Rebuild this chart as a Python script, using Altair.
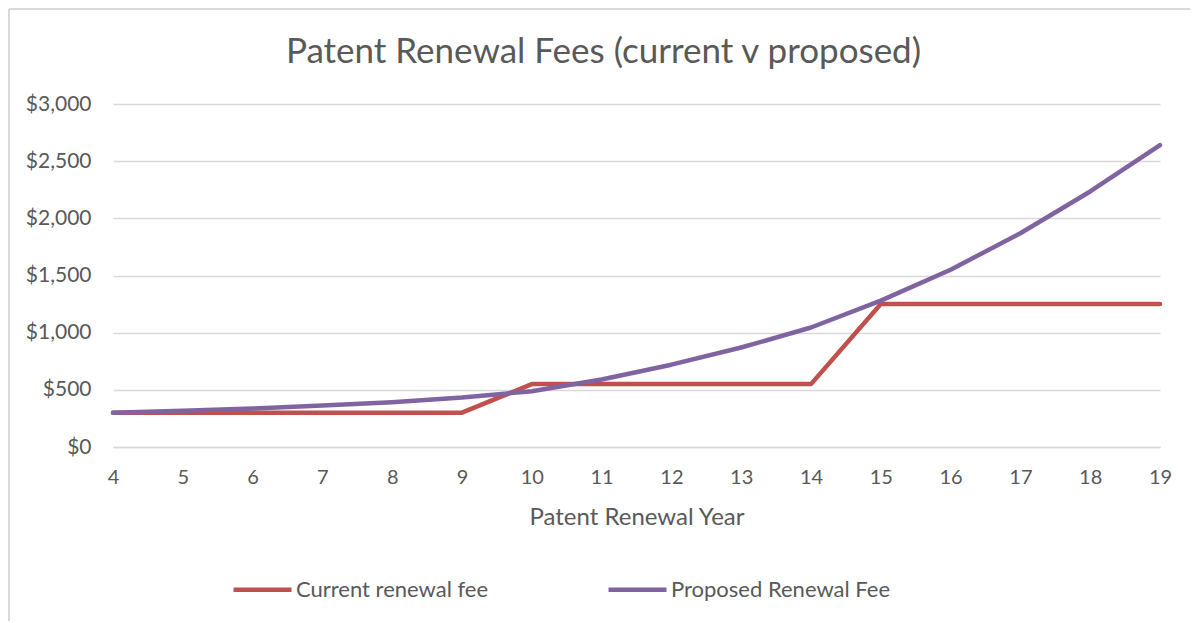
import altair as alt
import pandas as pd

years = list(range(4, 20))
current_fee = [300, 300, 300, 300, 300, 300, 550, 550, 550, 550, 550, 1250, 1250, 1250, 1250, 1250]
proposed_fee = [300, 316, 336, 362, 392, 433, 488, 590, 720, 870, 1045, 1280, 1550, 1870, 2235, 2640]
series_names = ["Current renewal fee", "Proposed Renewal Fee"]
series_colors = ["#C0504D", "#8064A2"]
y_ticks = [0, 500, 1000, 1500, 2000, 2500, 3000]

rows = []
for name, vals in zip(series_names, [current_fee, proposed_fee]):
    for yr, v in zip(years, vals):
        rows.append({"year": yr, "fee": v, "series": name})
df = pd.DataFrame(rows)

FONT = "Lato"
TXT = "#595959"
GRID = "#d9d9d9"
W, H = 1047, 343

lines = alt.Chart(df).mark_line(strokeWidth=4.5, strokeCap="round", strokeJoin="round").encode(
    x=alt.X("year:Q",
            scale=alt.Scale(domain=[4, 19], nice=False, zero=False),
            axis=alt.Axis(values=years, grid=False, ticks=False, tickSize=0, domain=True,
                          domainColor=GRID, domainWidth=1.5, labelPadding=20, labelFlush=False,
                          labelFont=FONT, labelFontSize=20, labelColor=TXT,
                          title="Patent Renewal Year", titleFont=FONT, titleFontSize=24,
                          titleFontWeight="normal", titleColor=TXT, titlePadding=18)),
    y=alt.Y("fee:Q",
            scale=alt.Scale(domain=[0, 3000], nice=False),
            axis=alt.Axis(values=y_ticks, format="$,.0f", grid=True, gridColor=GRID, gridWidth=1.5,
                          domain=False, ticks=False, tickSize=0, labelPadding=22,
                          labelFont=FONT, labelFontSize=21, labelColor=TXT, title=None)),
    color=alt.Color("series:N",
                    scale=alt.Scale(domain=series_names, range=series_colors),
                    legend=alt.Legend(title=None, orient="none", legendX=118, legendY=454,
                                      direction="horizontal", symbolType="stroke",
                                      symbolSize=3364, symbolStrokeWidth=4.5,
                                      labelFont=FONT, labelFontSize=22, labelColor=TXT,
                                      labelLimit=400, labelOffset=2, columnPadding=110,
                                      padding=0)),
    order=alt.Order("year:Q"),
)

frame_df = pd.DataFrame({"k": [0]})
top_edge = alt.Chart(frame_df).mark_rule(color=GRID, strokeWidth=2).encode(
    x=alt.value(-104), x2=alt.value(1200), y=alt.value(-95))
left_edge = alt.Chart(frame_df).mark_rule(color=GRID, strokeWidth=2).encode(
    x=alt.value(-104), y=alt.value(-95), y2=alt.value(700))

chart = alt.layer(top_edge, left_edge, lines).properties(
    width=W, height=H,
    padding={"left": 105, "top": 96, "right": 30, "bottom": 174},
    autosize=alt.AutoSizeParams(type="none"),
    title=alt.TitleParams("Patent Renewal Fees (current v proposed)", font=FONT, fontSize=35,
                          fontWeight="normal", color=TXT, anchor="middle", frame="group",
                          dx=-33, offset=-62),
).configure_view(stroke=None)

chart.save("out.html", embed_options={"renderer": "svg", "actions": False})
